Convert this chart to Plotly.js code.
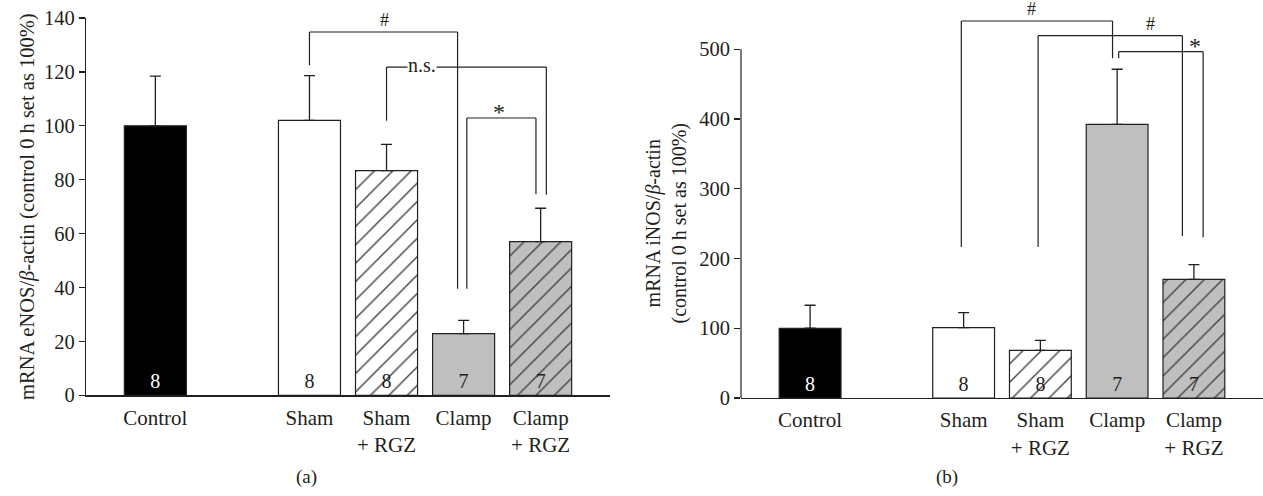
<!DOCTYPE html>
<html><head><meta charset="utf-8">
<script src="https://cdn.plot.ly/plotly-3.0.1.min.js"></script>
<style>html,body{margin:0;padding:0;background:#fff}#chart{width:1263px;height:496px}</style>
</head><body><div id="chart"></div>
<script>
// ---- data ----
const categories = ['Control', 'Sham', 'Sham<br>+ RGZ', 'Clamp', 'Clamp<br>+ RGZ'];
const axisOrder = ['Control', ' ', 'Sham', 'Sham<br>+ RGZ', 'Clamp', 'Clamp<br>+ RGZ'];
const eNOS = [100, 102, 83.4, 22.9, 57.0];
const eNOSErr = [18.4, 16.6, 9.7, 4.9, 12.4];
const iNOS = [100, 100.8, 68.4, 392.4, 170.2];
const iNOSErr = [33, 21.5, 14.3, 79, 21];
const nLabels = ['8', '8', '8', '7', '7'];
const yTicksA = [0, 20, 40, 60, 80, 100, 120, 140];
const yTicksB = [0, 100, 200, 300, 400, 500];
// brackets: [from index, to index, level, left drop end, right drop end, label, label index]
const bracketsA = [
  [2.0, 3.922, 134.8, 122.5, 39.5, '#', 2.97],
  [3.0, 5.074, 121.8, 101.9, 74.4, 'n.s.', 3.457],
  [4.042, 4.939, 102.9, 39.5, 74.6, '*', 4.46]
];
const bracketsB = [
  [1.97, 3.94, 540.6, 216.5, 487, '#', 2.89],
  [2.97, 4.85, 519.5, 216.5, 232.3, '#', 4.44],
  [4.02, 5.12, 496.6, 487, 230.4, '*', 5.02]
];

// ---- styles ----
const INK = '#231f20';
const FONT = 'Liberation Serif, Times New Roman, serif';
const fills = ['#000000', '#ffffff', '#ffffff', '#bfbfbf', '#bfbfbf'];
const hatch = ['', '', '/', '', '/'];
const numColors = ['#ffffff', INK, INK, INK, INK];

function barTrace(vals, errs, xa, ya) {
  return {
    type: 'bar', x: categories, y: vals, xaxis: xa, yaxis: ya,
    marker: {
      color: fills, line: {color: INK, width: 1.2},
      pattern: {shape: hatch, fillmode: 'overlay', fgcolor: fills.map(() => INK), fgopacity: 1,
                size: 13, solidity: 0.11}
    },
    error_y: {type: 'data', symmetric: false, array: errs, arrayminus: errs.map(() => 0),
              color: INK, thickness: 1.3, width: 5.5},
    text: nLabels, textposition: 'inside', insidetextanchor: 'start', textangle: 0,
    constraintext: 'none',
    textfont: {family: FONT, size: 20, color: numColors},
    hoverinfo: 'none', showlegend: false
  };
}

const shapes = [];
const annotations = [];
function addBrackets(list, xr, yr) {
  list.forEach(b => {
    const [a, c, lev, ya, yc, lab, lx] = b;
    const st = {color: INK, width: 1.2};
    shapes.push({type: 'line', xref: xr, yref: yr, x0: a, x1: c, y0: lev, y1: lev, line: st});
    shapes.push({type: 'line', xref: xr, yref: yr, x0: a, x1: a, y0: lev, y1: ya, line: st});
    shapes.push({type: 'line', xref: xr, yref: yr, x0: c, x1: c, y0: lev, y1: yc, line: st});
    if (lab === 'n.s.') {
      annotations.push({xref: xr, yref: yr, x: lx, y: lev, text: lab, showarrow: false,
        bgcolor: '#ffffff', borderpad: 0, yanchor: 'middle', yshift: 2,
        font: {family: FONT, size: 20, color: INK}});
    } else if (lab === '#') {
      annotations.push({xref: xr, yref: yr, x: lx, y: lev, text: lab, showarrow: false,
        yanchor: 'middle', yshift: 12, font: {family: FONT, size: 18, color: INK}});
    } else {
      annotations.push({xref: xr, yref: yr, x: lx, y: lev, text: lab, showarrow: false,
        yanchor: 'middle', yshift: 6, font: {family: FONT, size: 24, color: INK}});
    }
  });
}
addBrackets(bracketsA, 'x', 'y');
addBrackets(bracketsB, 'x2', 'y2');

// right y-axis line (only up to the last tick)
shapes.push({type: 'line', xref: 'x2 domain', yref: 'y2', x0: 0, x1: 0, y0: 0, y1: yTicksB[yTicksB.length - 1],
  line: {color: INK, width: 1.2}});

annotations.push({xref: 'paper', yref: 'paper', x: 666 / 1263, y: (496 - 223.5) / 496, textangle: -90,
  text: 'mRNA iNOS/<i>β</i>-actin<br>(control 0 h set as 100%)', showarrow: false,
  xanchor: 'center', yanchor: 'middle', font: {family: FONT, size: 20, color: INK}});
annotations.push({xref: 'paper', yref: 'paper', x: 306 / 1263, y: (496 - 477) / 496, text: '(a)',
  showarrow: false, xanchor: 'center', yanchor: 'middle', font: {family: FONT, size: 19, color: INK}});
annotations.push({xref: 'paper', yref: 'paper', x: 947 / 1263, y: (496 - 477) / 496, text: '(b)',
  showarrow: false, xanchor: 'center', yanchor: 'middle', font: {family: FONT, size: 19, color: INK}});

const xCommon = {
  type: 'category', categoryorder: 'array', categoryarray: axisOrder, range: [-0.9, 5.9],
  showline: true, linecolor: INK, linewidth: 1.2, ticks: '', showgrid: false, zeroline: false,
  ticklabelstandoff: 3,
  tickfont: {family: FONT, size: 21, color: INK}, fixedrange: true
};
const yCommon = {
  showgrid: false, zeroline: false, ticks: 'outside', ticklen: 6, tickwidth: 1.2, tickcolor: INK,
  tickfont: {family: FONT, size: 20.5, color: INK}, tickmode: 'array', fixedrange: true
};

const layout = {
  width: 1263, height: 496, margin: {l: 0, r: 0, t: 0, b: 0},
  paper_bgcolor: '#ffffff', plot_bgcolor: 'rgba(0,0,0,0)',
  bargap: 0.195, showlegend: false,
  font: {family: FONT, color: INK},
  xaxis: Object.assign({}, xCommon, {domain: [86 / 1263, 610 / 1263], anchor: 'y'}),
  yaxis: Object.assign({}, yCommon, {
    domain: [(496 - 395.3) / 496, (496 - 18) / 496], range: [0, 140], tickvals: yTicksA,
    showline: true, linecolor: INK, linewidth: 1.2, anchor: 'x',
    title: {text: 'mRNA eNOS/<i>β</i>-actin (control 0 h set as 100%)', standoff: 3,
            font: {family: FONT, size: 20.5, color: INK}}
  }),
  xaxis2: Object.assign({}, xCommon, {domain: [741 / 1263, 1], anchor: 'y2'}),
  yaxis2: Object.assign({}, yCommon, {
    domain: [(496 - 398) / 496, (496 - 7.45) / 496], range: [0, 560], tickvals: yTicksB,
    showline: false, anchor: 'x2'
  }),
  shapes: shapes, annotations: annotations
};

Plotly.newPlot('chart', [barTrace(eNOS, eNOSErr, 'x', 'y'), barTrace(iNOS, iNOSErr, 'x2', 'y2')],
  layout, {staticPlot: true, displayModeBar: false});
</script></body></html>
